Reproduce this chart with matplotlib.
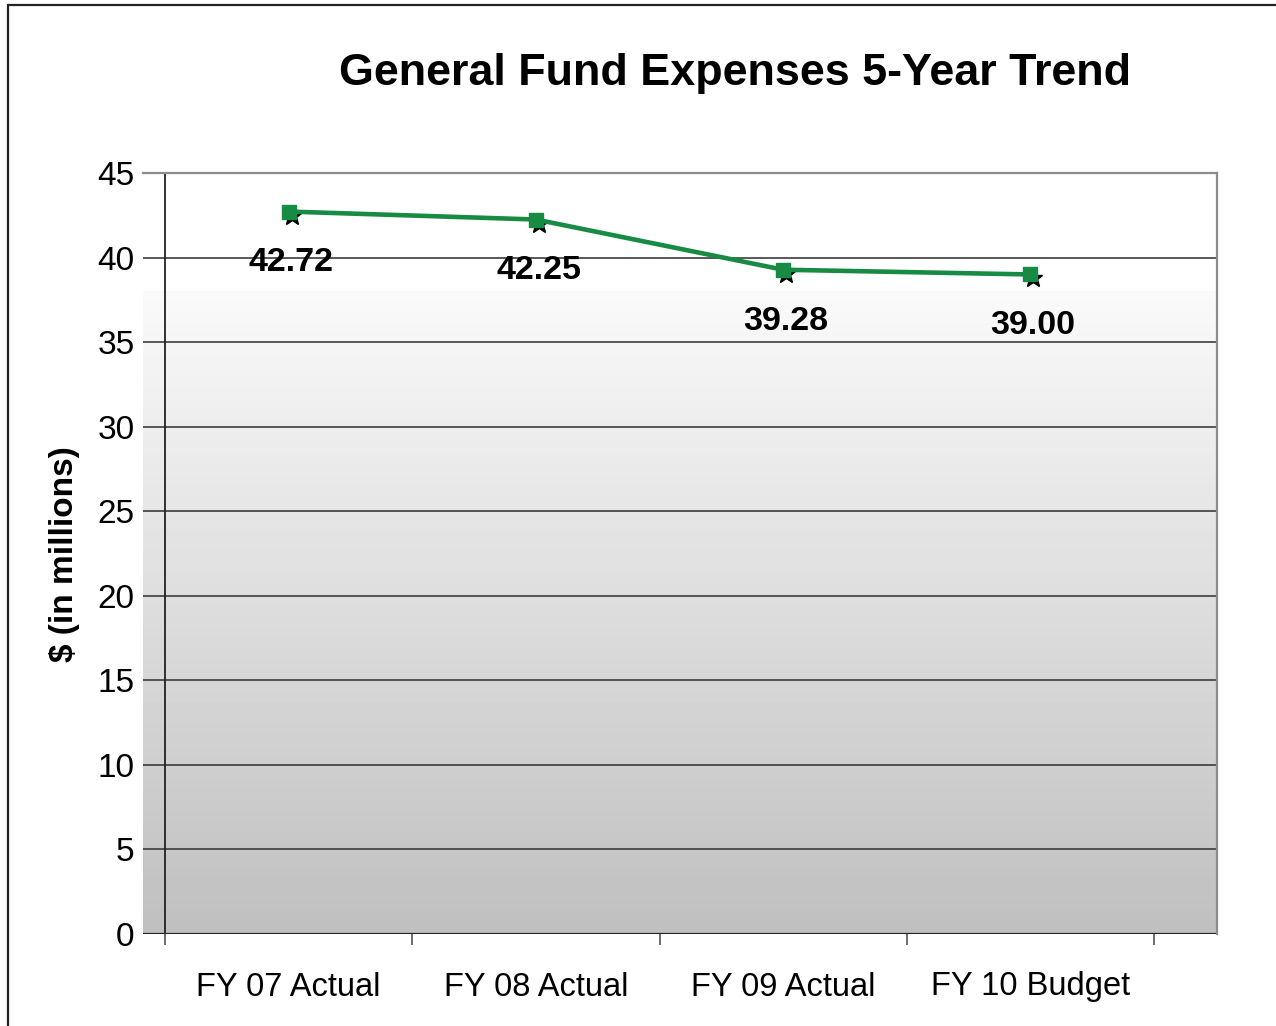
#!/usr/bin/env python3
import numpy as np
import matplotlib
matplotlib.use('Agg')
import matplotlib.pyplot as plt
import matplotlib.patches as patches
import matplotlib.transforms as mtransforms

categories = ['FY 07 Actual', 'FY 08 Actual', 'FY 09 Actual', 'FY 10 Budget']
expenses = [42.72, 42.25, 39.28, 39.00]
labels = ['42.72', '42.25', '39.28', '39.00']
yticks = [0, 5, 10, 15, 20, 25, 30, 35, 40, 45]

GREEN = '#178a43'

def main():
    plt.rcParams['font.family'] = ['Liberation Sans', 'DejaVu Sans']
    W, H = 1276, 1026
    fig = plt.figure(figsize=(W / 100, H / 100), dpi=100)
    ax = fig.add_axes([143 / W, 92 / H, (1217 - 143) / W, (934 - 173) / H])

    x = np.arange(len(categories))
    xmin = -0.5 - 22 / 247.25
    xmax = 3.5 + 63 / 247.25
    ax.set_xlim(xmin, xmax)
    ax.set_ylim(0, 45)

    # background gradient: white above ~38, grey fade below
    ys = np.linspace(45, 0, 400)
    shade = np.where(ys > 38.1, 1.0, (191 + (250 - 191) * ys / 38.1) / 255)
    img = np.repeat(shade[:, None], 2, axis=1)
    ax.imshow(img, cmap='gray', vmin=0, vmax=1, aspect='auto',
              extent=[xmin, xmax, 0, 45], zorder=0, interpolation='nearest')

    for s in ['left', 'bottom']:
        ax.spines[s].set_visible(False)
    for s in ['top', 'right']:
        ax.spines[s].set_color('#8c8c8c')
        ax.spines[s].set_linewidth(1.6)

    for yv in yticks[1:-1]:
        ax.axhline(yv, color='#3c3c3c', lw=1.2, zorder=1)
    ax.axhline(0, color='#222222', lw=1.6, zorder=2)
    ax.axvline(-0.5, color='#222222', lw=1.3, zorder=2)

    ax.set_yticks(yticks)
    ax.set_yticklabels([str(v) for v in yticks], fontsize=24)
    ax.tick_params(axis='y', length=0, pad=6)

    ax.set_xticks(x)
    ax.set_xticklabels(categories, fontsize=23.5)
    ax.tick_params(axis='x', which='major', length=0, pad=27)
    ax.set_xticks(np.arange(-0.5, 4.0, 1.0), minor=True)
    ax.tick_params(axis='x', which='minor', length=8, width=1.2,
                   color='#555555', direction='out')

    shadow = mtransforms.offset_copy(ax.transData, fig=fig, x=3, y=-4, units='dots')
    ax.plot(x, expenses, linestyle='none', marker='*', markersize=14,
            color='black', transform=shadow, zorder=3)
    ax.plot(x, expenses, color=GREEN, lw=3.3, marker='s', markersize=10,
            zorder=4)

    for xi, yi, lab in zip(x, expenses, labels):
        ax.annotate(lab, (xi, yi), xytext=(2, -37), textcoords='offset points',
                    ha='center', va='center', fontsize=24.5, fontweight='bold',
                    zorder=5)

    fig.text(735 / W, 1 - 73 / H, 'General Fund Expenses 5-Year Trend',
             ha='center', va='center', fontsize=32.3, fontweight='bold')
    fig.text(65 / W, 1 - 554 / H, '$ (in millions)', rotation=90,
             ha='center', va='center', fontsize=24, fontweight='bold')

    frame = patches.Rectangle((8 / W, -0.1), 1.2, 1 - 5 / H + 0.1,
                              transform=fig.transFigure, fill=False,
                              edgecolor='#222222', lw=1.6)
    fig.patches.append(frame)

    fig.savefig('out.png', dpi=100)

if __name__ == "__main__":
    main()
